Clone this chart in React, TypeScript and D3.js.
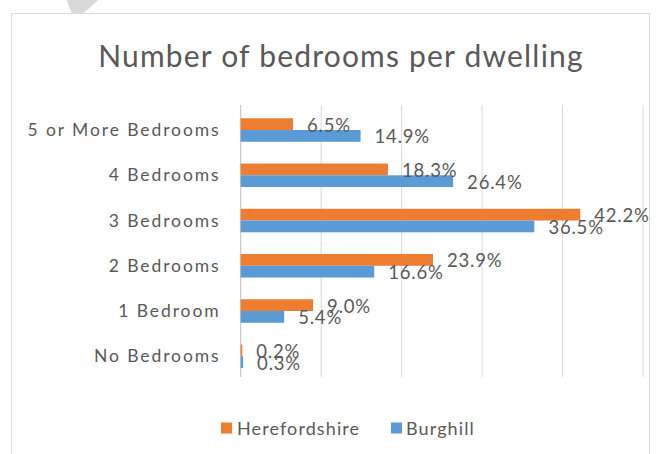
import React from "react";
import * as d3 from "d3";

const categories = ["5 or More Bedrooms", "4 Bedrooms", "3 Bedrooms", "2 Bedrooms", "1 Bedroom", "No Bedrooms"];
const seriesNames = ["Herefordshire", "Burghill"];
const herefordshire = [6.5, 18.3, 42.2, 23.9, 9.0, 0.2];
const burghill = [14.9, 26.4, 36.5, 16.6, 5.4, 0.3];
const xTicks = [0, 10, 20, 30, 40, 50];
const colors = ["#ED7D31", "#5B9BD5"];

const W = 659;
const H = 454;
const FONT = "Lato, 'Open Sans', sans-serif";
const TEXT = "#595959";

export default function App() {
  const x = d3.scaleLinear().domain([0, 50]).range([240.7, 643]);
  const y = d3.scaleBand<string>().domain(categories).range([107.4, 378.9]).paddingInner(0.48).paddingOuter(0.24);
  const ys = d3.scaleBand<string>().domain(seriesNames).range([0, y.bandwidth()]);
  const series = [herefordshire, burghill];
  const [plotTop, plotBottom] = [105, 377];

  return (
    <svg width={W} height={H} style={{ position: "absolute", left: 0, top: 0, background: "#fff" }}>
      <rect x={0} y={0} width={W} height={H} fill="#fff" />
      <polygon points="66.7,0 98.3,0 83.3,13.3 71.7,13.3" fill="#d9d9d9" />
      <rect x={11.5} y={13.5} width={638} height={460} fill="#fff" stroke="#d9d9d9" strokeWidth={1} />
      <text x={341} y={66.7} textAnchor="middle" fontFamily={FONT} fontSize={30} letterSpacing={1.2} fill={TEXT}>
        Number of bedrooms per dwelling
      </text>
      {xTicks.map((t) => (
        <line key={t} x1={x(t)} x2={x(t)} y1={plotTop} y2={plotBottom} stroke={t === 0 ? "#bfbfbf" : "#d9d9d9"} strokeWidth={1} />
      ))}
      {categories.map((c) => (
        <text key={c} x={220.5} y={(y(c) as number) + y.bandwidth() / 2 + 6} textAnchor="end" fontFamily={FONT} fontSize={17.5} letterSpacing={1.9} fill={TEXT}>
          {c}
        </text>
      ))}
      {series.map((vals, si) =>
        vals.map((v, i) => {
          const c = categories[i];
          const by = (y(c) as number) + (ys(seriesNames[si]) as number);
          return (
            <rect key={`${si}-${i}`} x={x(0)} y={by} width={x(v) - x(0)} height={ys.bandwidth()} fill={colors[si]} />
          );
        })
      )}
      {series.map((vals, si) =>
        vals.map((v, i) => {
          const c = categories[i];
          const by = (y(c) as number) + (ys(seriesNames[si]) as number);
          return (
            <text key={`l${si}-${i}`} x={x(v) + 14} y={by + ys.bandwidth() / 2 + 7.5} fontFamily={FONT} fontSize={18.5} letterSpacing={0.8} fill={TEXT}>
              {v.toFixed(1)}%
            </text>
          );
        })
      )}
      <g>
        <rect x={221} y={422.5} width={11} height={11} fill={colors[0]} />
        <text x={237} y={435} fontFamily={FONT} fontSize={18} letterSpacing={1.1} fill={TEXT}>{seriesNames[0]}</text>
        <rect x={391} y={422.5} width={11} height={11} fill={colors[1]} />
        <text x={406} y={435} fontFamily={FONT} fontSize={18} letterSpacing={1.1} fill={TEXT}>{seriesNames[1]}</text>
      </g>
    </svg>
  );
}
